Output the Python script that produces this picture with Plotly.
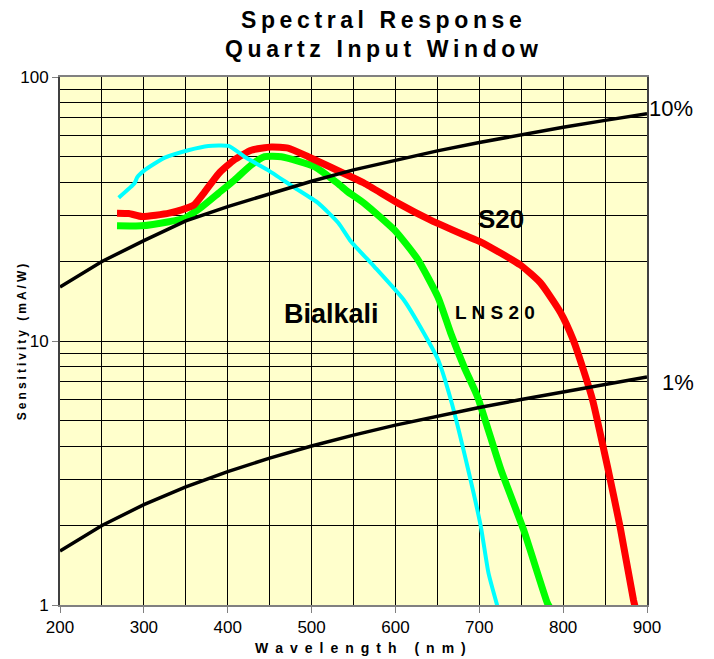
import plotly.graph_objects as go

FONT = "Arial, Liberation Sans, sans-serif"

# ---- data ----
s20_wl = [268, 282, 298, 330, 345, 360, 372, 389, 408, 428, 452, 472, 496, 523, 547, 563, 603, 642, 682, 702, 749, 773, 797, 812, 824, 835, 853, 868, 884, 886]
s20_val = [30.5, 30.4, 29.6, 30.5, 31.4, 32.8, 36.5, 43.0, 48.6, 52.8, 54.3, 53.8, 49.9, 45.5, 41.9, 39.6, 33.3, 28.7, 25.2, 23.7, 19.4, 16.6, 12.8, 10.1, 7.8, 6.0, 3.33, 1.97, 1.04, 0.98]

lns20_wl = [268, 297, 330, 349, 369, 389, 408, 428, 444, 464, 504, 531, 543, 563, 599, 627, 651, 666, 682, 698, 726, 753, 781, 784]
lns20_val = [27.3, 27.3, 28.3, 29.2, 32.2, 36.3, 40.7, 46.4, 49.9, 49.9, 45.7, 39.6, 36.8, 33.2, 26.3, 20.3, 14.6, 10.7, 7.97, 6.14, 3.24, 1.92, 1.02, 0.98]

bialkali_wl = [270, 289, 292, 301, 325, 353, 377, 401, 420, 448, 479, 508, 532, 547, 575, 610, 634, 651, 666, 686, 702, 711, 722]
bialkali_val = [34.9, 39.6, 41.7, 44.4, 49.5, 52.8, 54.8, 54.8, 49.9, 44.4, 38.2, 33.3, 28.0, 23.8, 19.1, 14.3, 10.7, 8.47, 6.0, 3.33, 1.97, 1.32, 0.98]

qe_wl = [200, 250, 300, 350, 400, 450, 500, 550, 600, 650, 700, 750, 800, 850, 900]
qe10_val = [16.0, 20.0, 24.0, 28.5, 32.3, 36.2, 40.3, 44.5, 48.5, 52.5, 56.5, 60.5, 64.5, 68.5, 72.6]
qe1_val = [1.6, 2.0, 2.4, 2.8, 3.2, 3.6, 4.0, 4.4, 4.8, 5.2, 5.6, 6.0, 6.4, 6.8, 7.3]

x_ticks = [200, 300, 400, 500, 600, 700, 800, 900]
y_ticks = [1, 10, 100]


def spaced(s, sep="\u2009"):
    return sep.join(list(s))


fig = go.Figure()
fig.add_trace(go.Scatter(x=lns20_wl, y=lns20_val, mode="lines",
                         line=dict(color="#00FF00", width=7, shape="spline", smoothing=0.5), name="LNS20"))
fig.add_trace(go.Scatter(x=s20_wl, y=s20_val, mode="lines",
                         line=dict(color="#FF0000", width=7, shape="spline", smoothing=0.5), name="S20"))
fig.add_trace(go.Scatter(x=bialkali_wl, y=bialkali_val, mode="lines",
                         line=dict(color="#00FFFF", width=4, shape="spline", smoothing=0.5), name="Bialkali"))
fig.add_trace(go.Scatter(x=qe_wl, y=qe10_val, mode="lines", line=dict(color="black", width=3.5), name="10%"))
fig.add_trace(go.Scatter(x=qe_wl, y=qe1_val, mode="lines", line=dict(color="black", width=3.5), name="1%"))

# page body has an 8px margin, so the figure is sized/offset to compensate
fig.update_layout(
    width=706, height=651,
    margin=dict(l=50, r=67, t=69, b=54),
    paper_bgcolor="white",
    plot_bgcolor="#FFFFCC",
    showlegend=False,
    font=dict(family=FONT, color="black"),
)
fig.update_xaxes(
    range=[200, 900], tickvals=x_ticks, ticktext=[str(v) for v in x_ticks],
    tickfont=dict(size=17, family=FONT), ticks="outside", ticklen=6, tickcolor="#808080",
    showgrid=True, gridcolor="black", gridwidth=1,
    minor=dict(dtick=50, showgrid=True, gridcolor="black", gridwidth=1),
    showline=True, linecolor="#808080", linewidth=2, mirror=True, zeroline=False,
)
fig.update_yaxes(
    type="log", range=[0, 2], tickvals=y_ticks, ticktext=[str(v) for v in y_ticks],
    tickfont=dict(size=17, family=FONT), ticks="outside", ticklen=6, tickcolor="#808080",
    showgrid=True, gridcolor="black", gridwidth=1,
    minor=dict(tickvals=[2, 3, 4, 5, 6, 7, 8, 9, 20, 30, 40, 50, 60, 70, 80, 90], showgrid=True, gridcolor="black", gridwidth=1),
    showline=True, linecolor="#404040", linewidth=2, mirror=True, zeroline=False,
)

ann = []
ann.append(dict(text="<b>" + spaced("Spectral Response") + "</b>",
                xref="paper", yref="paper", x=(381 - 58) / 589, y=(605 - 20) / 528, xanchor="center", yanchor="middle",
                showarrow=False, font=dict(size=23, family=FONT), borderpad=0))
ann.append(dict(text="<b>" + spaced("Quartz Input Window") + "</b>",
                xref="paper", yref="paper", x=(381 - 58) / 589, y=(605 - 49) / 528, xanchor="center", yanchor="middle",
                showarrow=False, font=dict(size=23, family=FONT), borderpad=0))
ann.append(dict(text="<b>" + spaced("Wavelength (nm)", "\u2002") + "</b>", xref="paper", yref="paper",
                x=(360 - 58) / 589, y=-(648 - 605) / 528, xanchor="center", yanchor="middle",
                showarrow=False, font=dict(size=14, family=FONT)))
ann.append(dict(text="<b>" + spaced("Sensitivity (mA/W)", "\u2005") + "</b>", xref="paper", yref="paper",
                x=-(58 - 20) / 589, y=(605 - 342) / 528, xanchor="center", yanchor="middle", textangle=-90,
                showarrow=False, font=dict(size=12, family=FONT)))
ann.append(dict(text="10%", xref="paper", yref="paper", x=1.0, y=(605 - 108) / 528, xanchor="left", yanchor="middle",
                showarrow=False, font=dict(size=22, family=FONT)))
ann.append(dict(text="1%", xref="paper", yref="paper", x=(660 - 58) / 589, y=(605 - 382) / 528, xanchor="left", yanchor="middle",
                showarrow=False, font=dict(size=22, family=FONT)))
ann.append(dict(text="<b>S20</b>", xref="paper", yref="paper", x=(501 - 58) / 589, y=(605 - 219) / 528,
                xanchor="center", yanchor="middle", showarrow=False, font=dict(size=26, family=FONT)))
ann.append(dict(text="<b>L N S 2 0</b>", xref="paper", yref="paper", x=(494 - 58) / 589, y=(605 - 312) / 528,
                xanchor="center", yanchor="middle", showarrow=False, font=dict(size=19, family=FONT)))
ann.append(dict(text="<b>Bialkali</b>", xref="paper", yref="paper", x=(330 - 58) / 589, y=(605 - 314) / 528,
                xanchor="center", yanchor="middle", showarrow=False, font=dict(size=27, family=FONT)))
fig.update_layout(annotations=ann)

fig.write_html("out.html")
